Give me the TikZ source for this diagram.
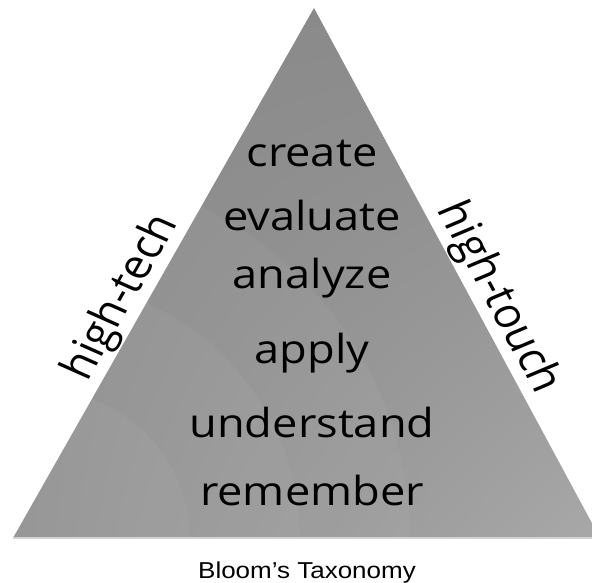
\documentclass[tikz,border=0pt]{standalone}
\usepackage{fontspec}
\setmainfont{Open Sans}
\newfontfamily\captionfont{Liberation Sans}
\usetikzlibrary{calc,shadings}
\definecolor{pyrdark}{gray}{0.54}
\definecolor{pyrlight}{gray}{0.66}

\begin{document}
\begin{tikzpicture}[x=1pt,y=-1pt,
  level/.style={font=\fontsize{40}{40}\selectfont,anchor=base,inner sep=0pt,xscale=1.13},
  side/.style={font=\fontsize{41}{41}\selectfont,anchor=south,inner sep=1pt,xscale=1.13}]
  \useasboundingbox (0,0) rectangle (592,583);
  \coordinate (apex) at (314,8);
  \coordinate (bl) at (13,538);
  \coordinate (br) at (600,538);
  % pyramid body with faint rings
  \begin{scope}
    \clip (apex)--(bl)--(br)--cycle;
    \shade[upper left=pyrdark,upper right=pyrdark,lower left=pyrdark,lower right=pyrlight]
      (0,0) rectangle (600,540);
    \foreach\r in {150,260,370}
      \fill[white,opacity=.04] (40,540) circle (\r);
  \end{scope}
  \draw[gray!35!white,line width=1.2] (bl)--(br);
  % the six levels
  \foreach\lv/\y in {create/167,evaluate/230,analyze/288,apply/363,understand/437,remember/505}
    \node[level] (\lv) at (312,\y) {\lv};
  \node[side,rotate=63.3] (tech) at ($(bl)!.435!(apex)$) {high-tech};
  \node[side,rotate=-64.5] (touch) at ($(apex)!.565!(br)$) {high-touch};
  \node[font=\captionfont\fontsize{23}{23}\selectfont,anchor=base,xscale=1.13] (title)
    at (307,578) {Bloom’s Taxonomy};
\end{tikzpicture}
\end{document}
